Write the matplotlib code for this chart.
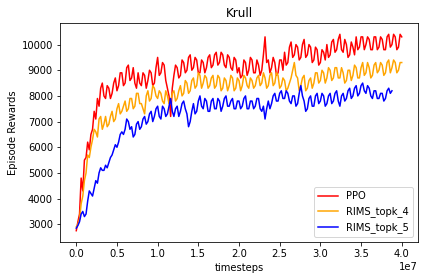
import numpy as np
import matplotlib
matplotlib.use("Agg")
import matplotlib.pyplot as plt

title = "Krull"
x_label = "timesteps"
y_label = "Episode Rewards"
series_names = ["PPO", "RIMS_topk_4", "RIMS_topk_5"]
series_colors = ["red", "orange", "blue"]
step = 2e5  # timesteps between recorded points

ppo = [2750, 3100, 3400, 4800, 4300, 5500, 5600, 6200, 5900, 6500,
       6700, 7400, 7100, 7900, 7600, 8300, 8500, 8000, 7900, 8400,
       8300, 7900, 8100, 8500, 8700, 8200, 8400, 8900, 8900, 8400,
       8500, 9100, 9200, 8600, 8700, 9100, 8500, 8300, 8900, 8500,
       8400, 8900, 8800, 8300, 8600, 9000, 8900, 8400, 8500, 9100,
       9500, 8800, 8900, 9300, 9200, 8600, 8300, 8000, 7200, 8300,
       8800, 9200, 9100, 8700, 8800, 9400, 9300, 8900, 9000, 9500,
       9600, 9000, 9100, 9500, 9400, 8900, 8900, 9400, 9300, 8900,
       9100, 9500, 9600, 9100, 9200, 9600, 9700, 9200, 9300, 9700,
       9600, 9200, 9100, 9600, 9500, 9100, 9000, 9500, 9400, 8900,
       9100, 8700, 8800, 9400, 9300, 8800, 9000, 9500, 9400, 8900,
       8900, 9400, 9200, 8800, 9000, 9600, 10300, 9300, 9400, 8900,
       9100, 9500, 9300, 8800, 8900, 9400, 9400, 9000, 9700, 9200,
       9300, 9900, 10100, 9500, 9600, 10000, 9900, 9400, 9500, 10000,
       10200, 9500, 9600, 10000, 9900, 9300, 9400, 9900, 9800, 9200,
       9300, 9800, 9700, 9400, 10000, 9500, 9600, 10100, 10200, 9700,
       9800, 10200, 10400, 9800, 9700, 10200, 10000, 9500, 9600, 10100,
       9900, 9600, 10300, 9800, 9900, 10300, 10300, 9800, 10000, 10300,
       10200, 9800, 9800, 10300, 10300, 9800, 9900, 10300, 10200, 9800,
       9800, 10300, 10400, 9900, 10000, 10400, 10300, 9800, 9900, 10400,
       10300]

rims4 = [2900, 3000, 3200, 3800, 4100, 4700, 5000, 5700, 5600, 6000,
         6300, 6700, 6600, 6400, 7100, 7200, 6700, 6900, 7200, 6800,
         6900, 7200, 7400, 7000, 7100, 7500, 7700, 7300, 7400, 7600,
         7800, 7400, 7500, 7900, 7900, 7500, 7600, 8100, 8100, 7700,
         7700, 7500, 7300, 8000, 8200, 7800, 7900, 8400, 8300, 8000,
         7900, 8200, 8100, 7800, 7700, 8200, 8000, 7700, 7800, 8100,
         8200, 7800, 7900, 8200, 8400, 8000, 8100, 8600, 8500, 8100,
         8200, 8600, 8700, 8300, 8400, 8900, 8800, 8300, 8500, 8800,
         8700, 8300, 8400, 8700, 8800, 8300, 8400, 8800, 8700, 8200,
         8300, 8700, 8600, 8200, 8400, 8800, 8700, 8200, 8300, 8700,
         8600, 8200, 8400, 8800, 8700, 8400, 8300, 8700, 8600, 8300,
         8400, 8700, 8800, 8400, 8500, 8900, 8700, 8300, 8400, 8800,
         8900, 8400, 8500, 8900, 8800, 8300, 8400, 8700, 8600, 8200,
         8300, 8500, 8700, 9000, 9300, 8800, 8700, 8200, 8400, 8700,
         8800, 8200, 8300, 8600, 8700, 8300, 8500, 8900, 8900, 8500,
         8600, 9000, 8900, 8500, 8700, 9100, 9000, 8600, 8700, 9100,
         9100, 8700, 8700, 9100, 8900, 8500, 8600, 9000, 9000, 8600,
         8800, 9200, 9100, 8700, 8700, 9100, 9300, 8800, 8900, 9300,
         9100, 8700, 8800, 9200, 9300, 8900, 9000, 9300, 9200, 8800,
         8900, 9300, 9400, 8900, 9100, 9400, 9300, 8900, 9000, 9300,
         9300]

rims5 = [2850, 2950, 3100, 3400, 3500, 3300, 3400, 3900, 4300, 4200,
         4100, 4400, 4700, 4600, 5000, 5200, 5100, 5100, 5300, 5200,
         5400, 5600, 5700, 5900, 6100, 6000, 6200, 6500, 6600, 6500,
         6700, 7100, 7000, 6700, 6800, 6400, 6500, 6900, 7000, 6700,
         6800, 7100, 7200, 6900, 7000, 7300, 7400, 7000, 7200, 7500,
         7600, 7200, 7100, 7600, 7500, 7200, 7300, 7600, 7900, 7400,
         7200, 7500, 7600, 7200, 7400, 7700, 7800, 7500, 7300, 6800,
         7000, 7400, 7700, 7300, 7400, 7800, 8000, 7600, 7500, 7900,
         7800, 7400, 7400, 7800, 7900, 7500, 7500, 7900, 7800, 7400,
         7600, 7900, 8000, 7600, 7600, 7800, 7900, 7500, 7500, 7800,
         7800, 7500, 7600, 7900, 8000, 7500, 7500, 7800, 7800, 7500,
         7600, 7900, 7900, 7500, 7400, 7600, 7100, 7500, 7800, 7500,
         7700, 8000, 8100, 7800, 7800, 8100, 8200, 7900, 7900, 8200,
         8100, 7800, 7700, 8000, 8000, 7600, 7700, 8100, 8400, 8000,
         7800, 7400, 7500, 7900, 8000, 7600, 7600, 8000, 8100, 7700,
         7800, 8100, 8000, 7600, 7700, 8000, 8100, 7700, 7800, 8100,
         8200, 7800, 7600, 8000, 8100, 7800, 7900, 8200, 8300, 7900,
         8000, 8300, 8400, 8000, 8100, 8400, 8500, 8200, 8100, 8400,
         8300, 8000, 7900, 8200, 8200, 7900, 7900, 8100, 8100, 7800,
         7900, 8200, 8300, 8100, 8200]

fig = plt.figure(figsize=(424 / 72, 280 / 72), dpi=72)
ax = fig.add_axes([60 / 424, 1 - 242 / 280, (418 - 60) / 424, (242 - 23) / 280])

for name, color, vals in zip(series_names, series_colors, [ppo, rims4, rims5]):
    x = np.arange(len(vals)) * step
    ax.plot(x, vals, color=color, label=name, linewidth=1.5)

ax.set_ylim(2310, 10840)
ax.set_xticks(np.arange(0, 4.01e7, 0.5e7))
ax.set_yticks(np.arange(3000, 10001, 1000))
ax.set_title(title)
ax.set_xlabel(x_label)
ax.set_ylabel(y_label)
ax.legend(loc="lower right")

fig.savefig("out.png", dpi=72)
